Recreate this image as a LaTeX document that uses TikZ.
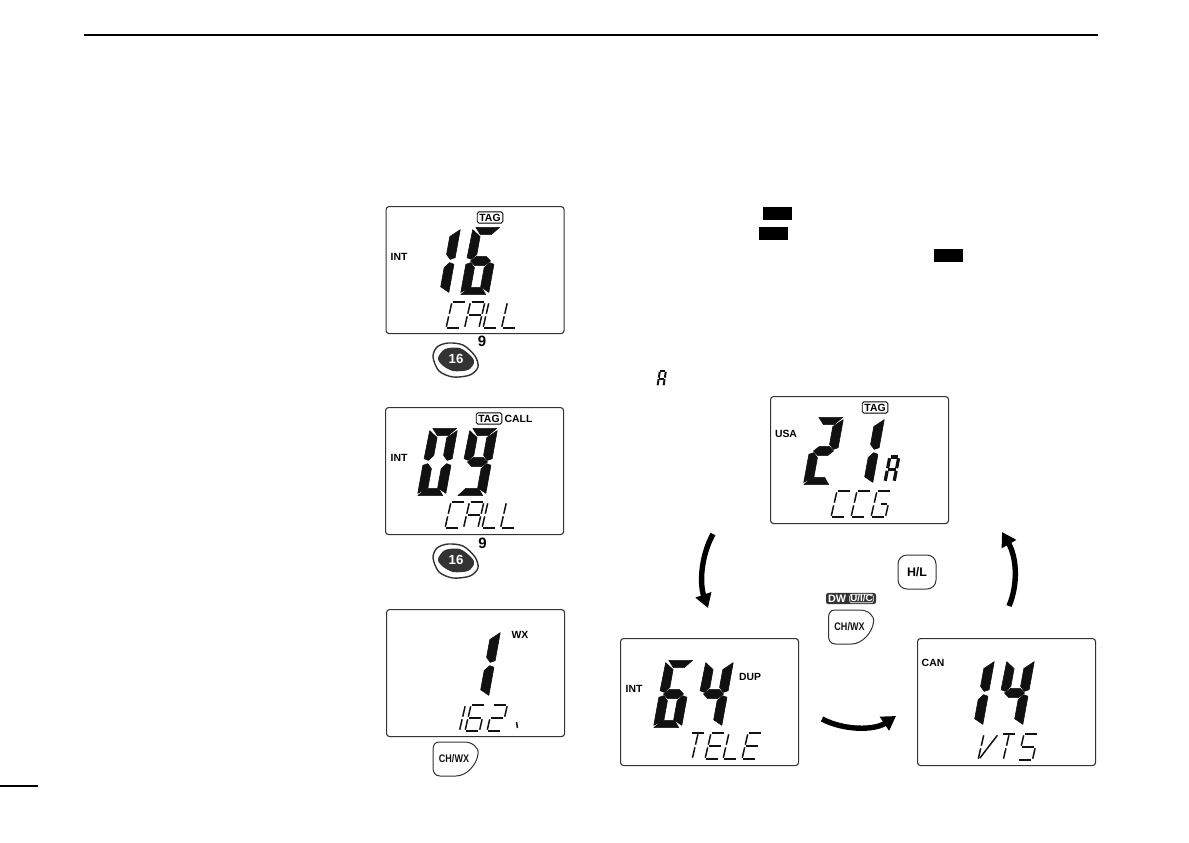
\documentclass[tikz,border=0pt]{standalone}
\usepackage{fontspec}
\setmainfont{Liberation Sans}
\newfontfamily\keyfont[FakeStretch=0.82]{Liberation Sans}
\usetikzlibrary{arrows.meta, positioning, calc}

\definecolor{lcdink}{HTML}{111111}
\definecolor{framegray}{HTML}{333333}

\tikzset{
    lcdframe/.style={draw=framegray, line width=0.55pt, rounded corners=1.5pt, anchor=north west,
        minimum width=89pt, minimum height=63.5pt, inner sep=0pt},
    lcdtag/.style={font=\bfseries\fontsize{5.2}{6}\selectfont, text=black, inner sep=0pt},
    tagbox/.style={lcdtag, draw=black, line width=0.45pt, rounded corners=0.8pt,
        minimum width=12.8pt, minimum height=5.6pt},
    keytext/.style={font=\keyfont\bfseries\fontsize{5.5}{6}\selectfont, text=lcdink, inner sep=0pt},
    keyline/.style={draw=framegray, line width=0.5pt},
    keynum/.style={font=\bfseries\fontsize{7.5}{8}\selectfont, inner sep=0pt},
    cyclearrow/.style={line width=2.7pt, -{Triangle[length=7pt,width=8pt]}},
    lcdline/.style={draw=lcdink, line cap=butt},
    % big digit segments, box 1 wide and 2 high
    bigseg a/.style={insert path={(0.1,2.02) -- (0.98,2.02) -- (0.72,1.8) -- (0.32,1.8) -- cycle}},
    bigseg b/.style={insert path={(1.02,1.95) -- (1.02,1.1) -- (0.85,1.05) -- (0.68,1.2) -- (0.68,1.74) -- cycle}},
    bigseg c/.style={insert path={(0.85,0.95) -- (1.02,0.9) -- (1.02,0.05) -- (0.68,0.22) -- (0.68,0.8) -- cycle}},
    bigseg d/.style={insert path={(0,-0.02) -- (0.92,-0.02) -- (0.72,0.2) -- (0.24,0.2) -- cycle}},
    bigseg e/.style={insert path={(-0.02,0.05) -- (-0.02,0.9) -- (0.15,0.95) -- (0.32,0.8) -- (0.32,0.22) -- cycle}},
    bigseg f/.style={insert path={(-0.02,1.1) -- (0,1.95) -- (0.32,1.74) -- (0.32,1.2) -- (0.15,1.05) -- cycle}},
    bigseg g/.style={insert path={(0.13,1) -- (0.32,1.14) -- (0.68,1.14) -- (0.87,1) -- (0.68,0.86) -- (0.32,0.86) -- cycle}},
    % thin character segments
    thinseg a/.style={insert path={(0.08,2) -- (0.92,2)}},
    thinseg b/.style={insert path={(1,1.9) -- (1,1.1)}},
    thinseg c/.style={insert path={(1,0.9) -- (1,0.1)}},
    thinseg d/.style={insert path={(0.08,0) -- (0.92,0)}},
    thinseg e/.style={insert path={(0,0.1) -- (0,0.9)}},
    thinseg f/.style={insert path={(0,1.1) -- (0,1.9)}},
    thinseg g/.style={insert path={(0.08,1) -- (0.92,1)}},
    thinseg h/.style={insert path={(0.5,1) -- (0.92,1)}},
    thinseg m/.style={insert path={(0.5,1.9) -- (0.5,1.1)}},
    thinseg n/.style={insert path={(0.5,0.9) -- (0.5,0.1)}},
    thinseg r/.style={insert path={(0.95,1.9) -- (0.1,0.15)}},
}

% big digit: x, y of lower left corner, segments
\newcommand{\bigdigit}[3]{%
    \begin{scope}[shift={(#1,#2)}, x={(13.5pt,0pt)}, y={(3pt,16.5pt)}]
        \foreach \sg in {#3} {\filldraw[lcdink, line width=0.3pt, line join=round, bigseg \sg];}
    \end{scope}}

% thin character: options, x, y of lower left corner, segments
\newcommand{\lcdchar}[4][]{%
    \begin{scope}[shift={(#2,#3)}, x={(7.2pt,0pt)}, y={(1.5pt,6.5pt)}, line width=0.75pt, #1]
        \foreach \sg in {#4} {\draw[lcdline, thinseg \sg];}
    \end{scope}}

% round key with dark centre
\newcommand{\numkey}[3]{%
    \begin{scope}[shift={(#2,#3)}]
        \draw[keyline, line width=0.7pt] plot[smooth cycle] coordinates
            {(-23,-2) (-19,-12) (-8,-16) (7,-14) (19,-3) (22,8) (14,16) (-3,18) (-17,12)};
        \fill[framegray] plot[smooth cycle] coordinates
            {(-18,-1) (-11,-10) (4,-11) (16,-2) (18,4) (12,11) (-3,12) (-14,6)};
        \node[keytext, text=white, font=\bfseries\fontsize{6.6}{7}\selectfont] (#1) at (0,0) {16};
    \end{scope}}

% key with cut lower right corner
\newcommand{\wxkey}[3]{%
    \begin{scope}[shift={(#2,#3)}]
        \draw[keyline] (-15,-17) -- (10,-17) .. controls (18,-17) and (25,-12) .. (24,-5)
            .. controls (23,5) and (13,17) .. (2,17) -- (-14,17)
            .. controls (-19,17) and (-21,13) .. (-21,9) -- (-21,-9)
            .. controls (-21,-14) and (-19,-17) .. (-15,-17) -- cycle;
        \node[keytext] (#1) at (0,0) {CH/WX};
    \end{scope}}

\begin{document}
\begin{tikzpicture}[x=0.5pt, y=-0.5pt, >=Stealth]
\useasboundingbox (0,0) rectangle (1189,842);

% =========================================================
%  PAGE RULES AND BLACK BOXES
% =========================================================
\draw[black, line width=1pt] (84,35) -- (1098,35);
\draw[black, line width=0.7pt] (0,786) -- (38,786);
\foreach \bx/\by in {763/207, 759/227, 934/249} {
    \fill[black] (\bx,\by) rectangle ++(28.5,13);
}

% =========================================================
%  LEFT COLUMN
% =========================================================
% --- Channel 16 ---
\node[lcdframe] (lcdcall) at (385.5,206) {};
\node[tagbox] (tagcall) at (490,217.5) {TAG};
\node[lcdtag] (intcall) at (399,257) {INT};
\bigdigit{421}{294}{b,c}
\bigdigit{461}{294}{a,c,d,e,f,g}
\lcdchar{446}{328}{a,d,e,f}
\lcdchar{464.5}{328}{a,b,c,e,f,g}
\lcdchar{483}{328}{d,e,f}
\lcdchar{501.5}{328}{d,e,f}
\numkey{keycall}{456}{359}
\node[keynum] (ninecall) at (482,341) {9};

% --- Channel 09 ---
\node[lcdframe] (lcdnine) at (385,407) {};
\node[tagbox] (tagnine) at (489,418.5) {TAG};
\node[lcdtag] (callnine) at (518.5,419) {CALL};
\node[lcdtag] (intnine) at (399,458) {INT};
\bigdigit{418}{495}{a,b,c,d,e,f}
\bigdigit{458}{495}{a,b,c,d,f,g}
\lcdchar{445}{528}{a,d,e,f}
\lcdchar{463.5}{528}{a,b,c,e,f,g}
\lcdchar{482}{528}{d,e,f}
\lcdchar{500.5}{528}{d,e,f}
\numkey{keynine}{456}{560}
\node[keynum] (ninenine) at (482.5,543) {9};

% --- Weather channel ---
\node[lcdframe] (lcdwx) at (386,609) {};
\node[lcdtag] (wxlabel) at (520,635) {WX};
\bigdigit{461}{697}{b,c}
\lcdchar{445}{731}{b,c}
\lcdchar{465}{731}{a,c,d,e,f,g}
\lcdchar{487}{731}{a,b,d,e,g}
\draw[lcdline, line width=0.75pt] (516.5,722) -- (517.5,728);
\wxkey{keywx}{454}{759}

% =========================================================
%  RIGHT SIDE: three displays in a cycle
% =========================================================
% --- USA 21A ---
\node[lcdframe] (lcdusa) at (770,396) {};
\node[tagbox] (tagusa) at (875,407.5) {TAG};
\node[lcdtag] (usalabel) at (786,434) {USA};
\bigdigit{804}{484}{a,b,d,e,g}
\bigdigit{845}{484}{b,c}
\lcdchar[x={(4.5pt,0pt)}, y={(1.2pt,6.25pt)}, line width=1.6pt]{885}{482}{a,b,c,e,f,g}
\lcdchar{831}{517}{a,d,e,f}
\lcdchar{851}{517}{a,d,e,f}
\lcdchar{871}{517}{a,c,d,e,f,h}

% --- INT 64 ---
\node[lcdframe] (lcdint) at (620,638) {};
\node[lcdtag] (intlabel) at (634,689) {INT};
\node[lcdtag] (duplabel) at (750,677) {DUP};
\bigdigit{654}{727}{a,c,d,e,f,g}
\bigdigit{694}{727}{b,c,f,g}
\lcdchar{685}{759}{a,m,n}
\lcdchar{705}{759}{a,d,e,f,g}
\lcdchar{723}{759}{d,e,f}
\lcdchar{742}{759}{a,d,e,f,g}

% --- CAN 14 ---
\node[lcdframe] (lcdcan) at (917,638) {};
\node[lcdtag] (canlabel) at (933,663) {CAN};
\bigdigit{955}{726}{b,c}
\bigdigit{995}{726}{b,c,f,g}
\lcdchar{978}{760}{e,f,r}
\lcdchar{996}{760}{a,m,n}
\lcdchar{1018}{760}{a,c,d,f,g}

% --- Small R beside the text ---
\lcdchar[x={(3pt,0pt)}, y={(0.6pt,3.75pt)}, line width=1pt]{657.5}{386}{a,b,c,e,f,g}

% --- Keys ---
\node[keyline, draw, rounded corners=4.5pt, minimum width=19pt, minimum height=17pt,
    inner sep=0pt, font=\bfseries\fontsize{6.2}{7}\selectfont] (keyhl) at (917,572) {H/L};
\wxkey{keywxb}{849.5}{627}
\node[fill=framegray, rounded corners=1.2pt, minimum width=25pt, minimum height=5.6pt,
    inner sep=0pt] (dwbadge) at (851,598.5) {};
\node[font=\bfseries\fontsize{5.4}{6}\selectfont, text=white, inner sep=0pt] (dwtext) at (837,598.5) {DW};
\node[draw=white, line width=0.3pt, rounded corners=1pt, font=\bfseries\fontsize{4.9}{6}\selectfont,
    text=white, inner sep=0.3pt] (uictext) at (861.5,598.5) {U/I/C};

% --- Cycle arrows ---
\coordinate (arrowaa) at (713,534);
\coordinate (arrowab) at (708,608);
\coordinate (arrowba) at (822,719);
\coordinate (arrowbb) at (896,716);
\coordinate (arrowca) at (1009,606);
\coordinate (arrowcb) at (1002,532);
\draw[cyclearrow] (arrowaa) .. controls (700,558) and (700,585) .. (arrowab);
\draw[cyclearrow] (arrowba) .. controls (845,731) and (875,730) .. (arrowbb);
\draw[cyclearrow] (arrowca) .. controls (1018,585) and (1017,558) .. (arrowcb);

\end{tikzpicture}
\end{document}
